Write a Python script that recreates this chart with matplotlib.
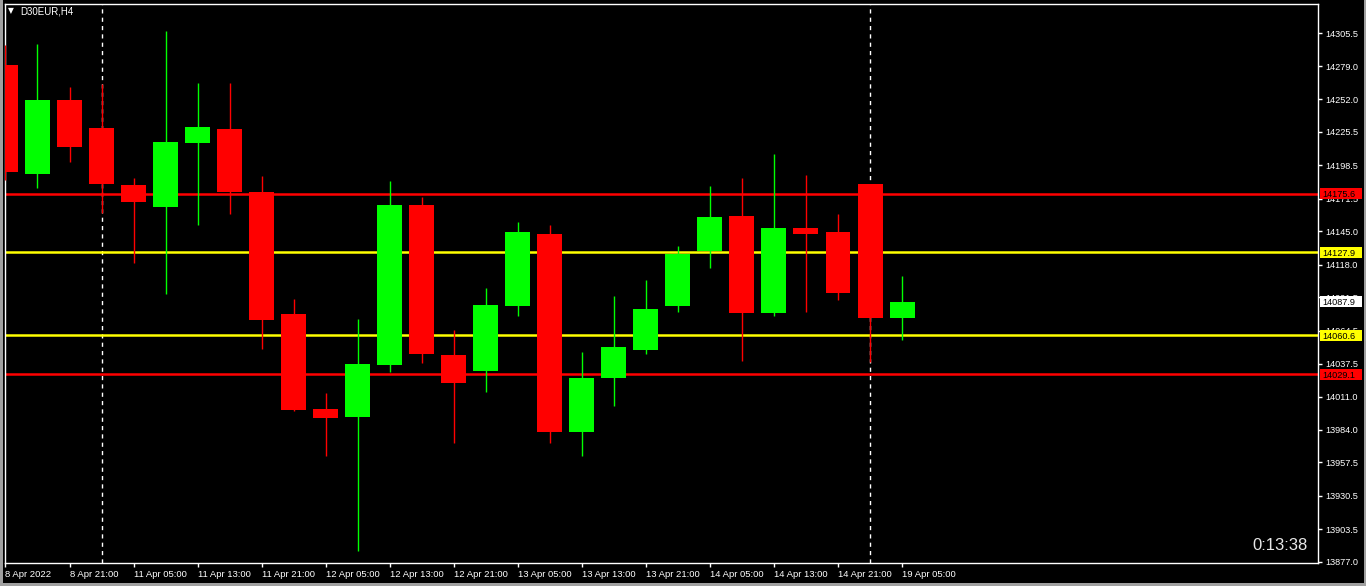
import numpy as np
import matplotlib
matplotlib.use('Agg')
import matplotlib.pyplot as plt
from matplotlib.patches import Rectangle
from matplotlib.transforms import blended_transform_factory

plt.rcParams['font.family'] = ['Liberation Sans', 'DejaVu Sans']

# D30EUR H4 Kerzen
opens = [14279.8, 14191.4, 14251.4, 14228.7, 14182.5, 14164.6, 14216.5, 14227.9,
         14176.8, 14077.9, 14000.8, 13994.4, 14036.5, 14166.3, 14044.6, 14031.7,
         14084.4, 14142.7, 13982.2, 14026.0, 14048.7, 14084.4, 14129.0, 14157.3,
         14078.7, 14147.6, 14144.4, 14183.3, 14074.6]
highs = [14296.0, 14296.8, 14262.0, 14264.4, 14188.2, 14307.4, 14265.2, 14265.2,
         14189.8, 14090.0, 14013.8, 14073.8, 14185.7, 14172.8, 14064.9, 14099.0,
         14152.5, 14150.0, 14047.1, 14092.5, 14105.4, 14133.0, 14181.7, 14188.2,
         14207.6, 14190.6, 14159.0, 14183.3, 14108.7]
lows = [14186.5, 14180.3, 14201.4, 14160.0, 14119.5, 14094.3, 14150.3, 14159.2,
        14049.5, 13999.2, 13963.0, 13885.9, 14030.8, 14038.1, 13973.3, 14014.6,
        14076.3, 13973.3, 13962.7, 14003.3, 14045.4, 14079.5, 14115.2, 14039.8,
        14076.3, 14079.5, 14089.2, 14039.0, 14056.8]
closes = [14193.0, 14251.4, 14213.3, 14183.3, 14168.7, 14217.4, 14229.5, 14176.8,
          14073.0, 14000.0, 13993.5, 14037.3, 14166.3, 14045.4, 14021.9, 14085.2,
          14144.4, 13982.2, 14026.0, 14051.1, 14081.9, 14126.5, 14156.5, 14078.7,
          14147.6, 14142.7, 14094.9, 14074.6, 14087.9]

time_labels = ['8 Apr 2022', '8 Apr 21:00', '11 Apr 05:00', '11 Apr 13:00',
               '11 Apr 21:00', '12 Apr 05:00', '12 Apr 13:00', '12 Apr 21:00',
               '13 Apr 05:00', '13 Apr 13:00', '13 Apr 21:00', '14 Apr 05:00',
               '14 Apr 13:00', '14 Apr 21:00', '19 Apr 05:00']
time_label_idx = [0, 2, 4, 6, 8, 10, 12, 14, 16, 18, 20, 22, 24, 26, 28]
week_sep_idx = [3, 27]

price_ticks = [14305.5, 14279.0, 14252.0, 14225.5, 14198.5, 14171.5, 14145.0,
               14118.0, 14091.5, 14064.5, 14037.5, 14011.0, 13984.0, 13957.5,
               13930.5, 13903.5, 13877.0]

levels = [14175.6, 14127.9, 14060.6, 14029.1]
level_colors = ['#ff0000', '#ffff00', '#ffff00', '#ff0000']
bid = 14087.9
countdown = '0:13:38'
symbol = 'D30EUR,H4'

BULL = '#00ff00'
BEAR = '#ff0000'
W, H = 1366, 586


def draw_candles(ax):
    width = 0.78
    for i, (o, h, l, c) in enumerate(zip(opens, highs, lows, closes)):
        col = BULL if c >= o else BEAR
        ax.plot([i, i], [l, h], color=col, linewidth=1.0, zorder=3,
                solid_capstyle='butt')
        bottom = min(o, c)
        height = max(abs(c - o), 0.8)
        ax.add_patch(Rectangle((i - width / 2, bottom), width, height,
                               facecolor=col, edgecolor='none', zorder=4))


def price_box(fig, ax, price, col, units_per_px):
    trans = blended_transform_factory(fig.transFigure, ax.transData)
    box_h = 11 * units_per_px
    fig.patches.append(Rectangle((1320 / W, price - box_h / 2), 42 / W, box_h,
                                 transform=trans, facecolor=col,
                                 edgecolor='none', zorder=5))
    fig.text(1322.5 / W, 0, f'{price:.1f}', transform=trans, color='black',
             fontsize=6.6, ha='left', va='center_baseline', zorder=6)
    # y in Datenkoordinaten setzen
    fig.texts[-1].set_position((1322.5 / W, price))


def main():
    fig = plt.figure(figsize=(13.66, 5.86), dpi=100, facecolor='black')
    left, right, top, bottom = 4.5, 1318.3, 3.5, 563.0
    ax = fig.add_axes([left / W, 1 - bottom / H, (right - left) / W,
                       (bottom - top) / H])
    ax.set_facecolor('black')

    ymin, ymax = 13876.0, 14329.7
    units_per_px = (ymax - ymin) / (bottom - top)

    # Fensterrahmen (links, rechts, unten)
    fig.patches.append(Rectangle((0, 0), 2.5 / W, 1, transform=fig.transFigure,
                                 facecolor='#a0a0a0', edgecolor='none'))
    fig.patches.append(Rectangle((1 - 2.5 / W, 0), 2.5 / W, 1,
                                 transform=fig.transFigure,
                                 facecolor='#a0a0a0', edgecolor='none'))
    fig.patches.append(Rectangle((0, 0), 1, 3 / H, transform=fig.transFigure,
                                 facecolor='#a0a0a0', edgecolor='none'))

    for idx in week_sep_idx:
        ax.axvline(idx, color='white', linewidth=1.0, linestyle=(0, (3, 3)),
                   zorder=1)

    for lvl, col in zip(levels, level_colors):
        ax.axhline(lvl, color=col, linewidth=1.8, zorder=2)

    draw_candles(ax)

    ax.set_xlim(-0.03, 41.0)
    ax.set_ylim(ymin, ymax)

    ax.set_xticks(time_label_idx)
    ax.set_xticklabels(time_labels, ha='left')
    ax.set_yticks(price_ticks)
    ax.set_yticklabels([f'{p:.1f}' for p in price_ticks])
    ax.yaxis.tick_right()
    ax.tick_params(axis='x', colors='white', labelsize=6.8, length=3,
                   width=1, pad=2)
    ax.tick_params(axis='y', colors='white', labelsize=6.6, length=3,
                   width=1, pad=2)

    for sp in ax.spines.values():
        sp.set_color('white')
        sp.set_linewidth(1.0)

    for lvl, col in zip(levels, level_colors):
        price_box(fig, ax, lvl, col, units_per_px)
    price_box(fig, ax, bid, 'white', units_per_px)

    fig.text(20 / W, 1 - 11.5 / H, symbol, color='white', fontsize=7,
             ha='left', va='center')
    fig.text(8 / W, 1 - 11 / H, '\u25bc', color='white', fontsize=5.5,
             ha='left', va='center', family=['DejaVu Sans'])
    fig.text(1308 / W, 1 - 545 / H, countdown, color='#e8e8e8', fontsize=12,
             ha='right', va='center')

    fig.savefig('out.png', dpi=100, facecolor='black')


if __name__ == '__main__':
    main()
